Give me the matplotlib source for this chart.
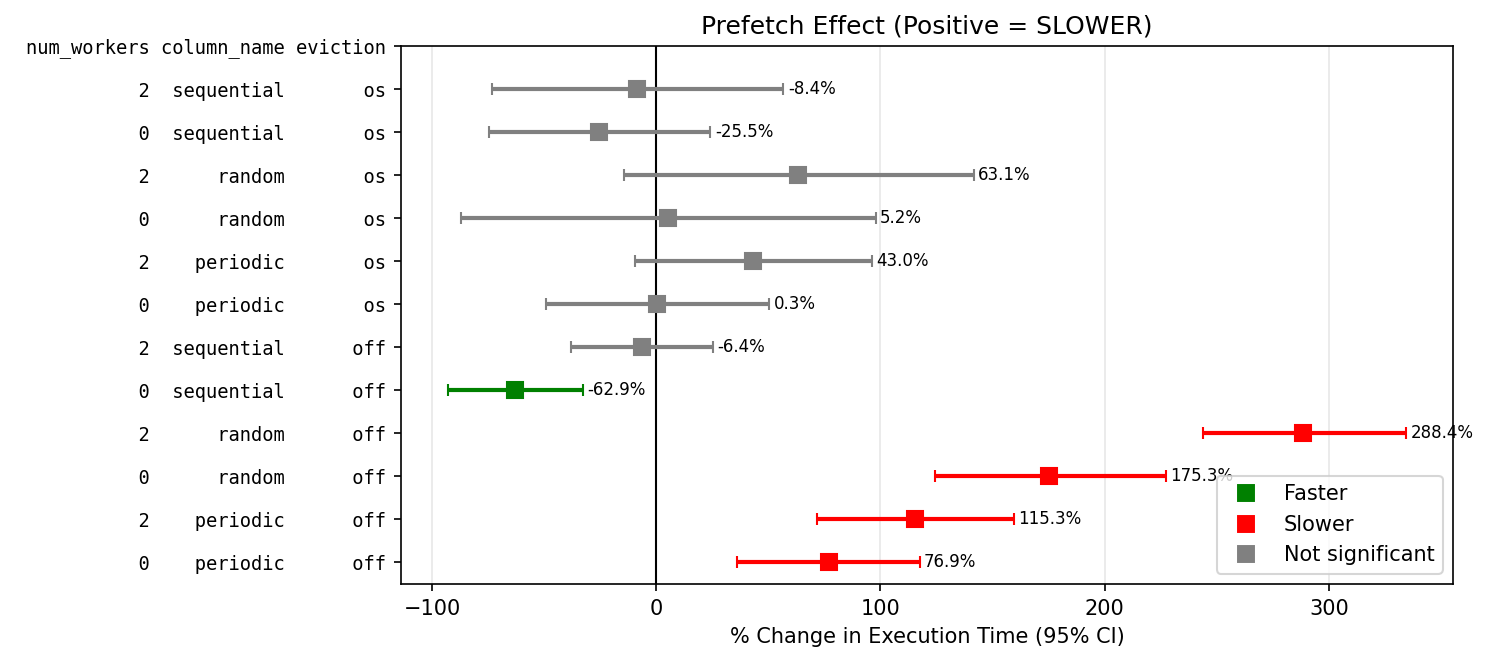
import numpy as np
import matplotlib
matplotlib.use('Agg')
from matplotlib import pyplot as plt
from matplotlib.lines import Line2D

# rows listed bottom to top
num_workers = [0, 2, 0, 2, 0, 2, 0, 2, 0, 2, 0, 2]
column_name = ['periodic', 'periodic', 'random', 'random', 'sequential', 'sequential',
               'periodic', 'periodic', 'random', 'random', 'sequential', 'sequential']
eviction = ['off'] * 6 + ['os'] * 6
pct = [76.9, 115.3, 175.3, 288.4, -62.9, -6.4, 0.3, 43.0, 5.2, 63.1, -25.5, -8.4]
ci_low = [36.2, 71.9, 124.1, 243.8, -92.9, -37.9, -49.1, -9.4, -87.1, -14.3, -74.6, -73.2]
ci_high = [117.4, 159.4, 227.2, 334.4, -32.6, 25.4, 50.4, 96.0, 97.8, 141.5, 24.1, 56.7]

def colour(lo, hi):
    if hi < 0:
        return 'green'
    if lo > 0:
        return 'red'
    return 'gray'

fig = plt.figure(figsize=(9.92, 4.42), dpi=150)
ax = fig.add_axes([0.2695, 0.1192, 0.707, 0.8114])

for i in range(len(pct)):
    c = colour(ci_low[i], ci_high[i])
    ax.errorbar(pct[i], i, xerr=[[pct[i] - ci_low[i]], [ci_high[i] - pct[i]]],
                fmt='s', color=c, markersize=8, capsize=3, elinewidth=2, zorder=3)
    ax.text(ci_high[i] + 2, i, f'{pct[i]:.1f}%', va='center', fontsize=8, zorder=4)

ax.axvline(0, color='black', linewidth=1, zorder=2)

labels = [f'{w:>11} {n:>11} {e:>8}' for w, n, e in zip(num_workers, column_name, eviction)]
labels.append('num_workers column_name eviction')
ax.set_yticks(range(len(labels)))
ax.set_yticklabels(labels, fontfamily='DejaVu Sans Mono', fontsize=9)
ax.set_ylim(-0.5, len(pct))
ax.set_xlim(-113.8, 355.3)

ax.grid(axis='x', alpha=0.3)
ax.set_axisbelow(True)
ax.set_xlabel('% Change in Execution Time (95% CI)')
ax.set_title('Prefetch Effect (Positive = SLOWER)')

handles = [Line2D([0], [0], marker='s', color='w', markerfacecolor=c, markersize=9.5, label=l)
           for c, l in [('green', 'Faster'), ('red', 'Slower'), ('gray', 'Not significant')]]
ax.legend(handles=handles, loc='lower right')

fig.savefig('out.png')
